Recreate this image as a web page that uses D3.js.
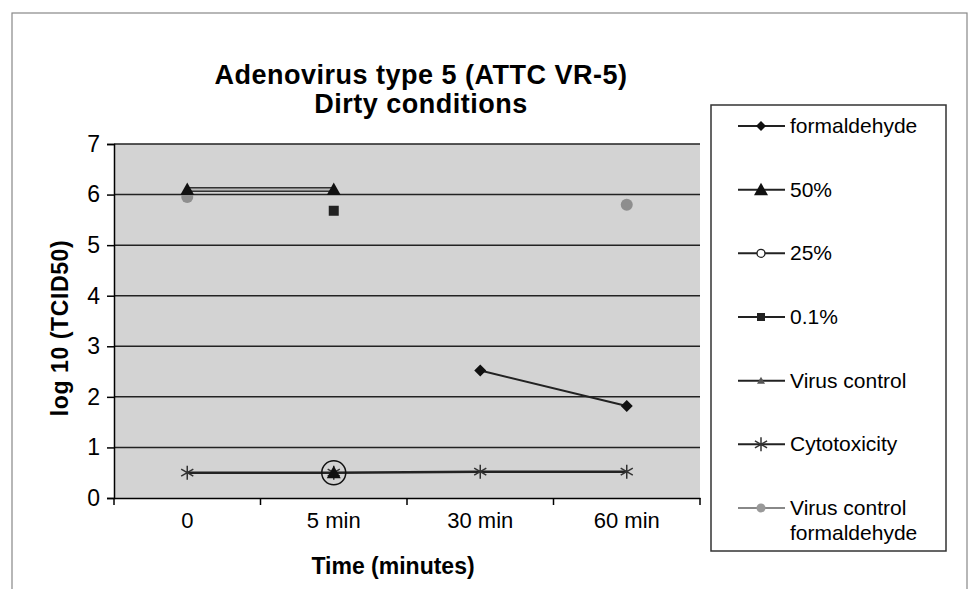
<!DOCTYPE html>
<html>
<head>
<meta charset="utf-8">
<script src="https://cdn.jsdelivr.net/npm/d3@7"></script>
<style>
  body { margin: 0; background: #fff; }
  text { font-family: "Liberation Sans", Arial, sans-serif; fill: #000; }
</style>
</head>
<body>
<script>
// chart data
const categories = ["0", "5 min", "30 min", "60 min"];
const yTicks = [0, 1, 2, 3, 4, 5, 6, 7];

// null = no point at that time
const formaldehyde = [null, null, 2.52, 1.82];
const pct50 = [null, 0.5, null, null];
const pct25 = [null, 0.5, null, null];
const pct01 = [null, 5.68, null, null];
const virusControl = [6.1, 6.1, null, null];
const cytotoxicity = [0.5, 0.5, 0.52, 0.52];
const virusControlForm = [5.95, null, null, 5.8];

const legendLabels = ["formaldehyde", "50%", "25%", "0.1%", "Virus control", "Cytotoxicity", "Virus control formaldehyde"];

const W = 973, H = 589;
const plot = { left: 114, right: 700, top: 144, bottom: 498 };

const svg = d3.select("body").append("svg")
  .attr("width", W)
  .attr("height", H);

// outer chart frame
svg.append("rect")
  .attr("x", 12).attr("y", 13)
  .attr("width", 955).attr("height", 580)
  .attr("fill", "none")
  .attr("stroke", "#888")
  .attr("stroke-width", 1.2);

const x = d3.scaleBand().domain(categories).range([plot.left, plot.right]);
const y = d3.scaleLinear().domain([0, 7]).range([plot.bottom, plot.top]);

// plot background
svg.append("rect")
  .attr("x", plot.left).attr("y", plot.top)
  .attr("width", plot.right - plot.left).attr("height", plot.bottom - plot.top)
  .attr("fill", "#d3d3d3");

// gridlines
svg.append("g").selectAll("line")
  .data(yTicks.filter(d => d > 0))
  .join("line")
  .attr("x1", plot.left).attr("x2", plot.right)
  .attr("y1", d => y(d)).attr("y2", d => y(d))
  .attr("stroke", "#222")
  .attr("stroke-width", 1.5);

// y axis
const yAxis = svg.append("g")
  .attr("transform", `translate(${plot.left},0)`)
  .call(d3.axisLeft(y).tickValues(yTicks).tickFormat(d3.format("d")).tickSize(7).tickPadding(7));
yAxis.selectAll("text").style("font-size", "23px");
yAxis.selectAll("line, path").attr("stroke", "#000").attr("stroke-width", 1.5);

// x axis: Excel style ticks between categories
const xAxis = svg.append("g")
  .attr("transform", `translate(0,${plot.bottom})`)
  .call(d3.axisBottom(x).tickSize(0).tickPadding(14));
xAxis.select("path").attr("stroke", "#000").attr("stroke-width", 1.5);
xAxis.selectAll("text").style("font-size", "22px");
xAxis.append("g").selectAll("line")
  .data(categories.map(c => x(c)).concat([plot.right]))
  .join("line")
  .attr("x1", d => d).attr("x2", d => d)
  .attr("y1", 0).attr("y2", 7)
  .attr("stroke", "#000").attr("stroke-width", 1.5);

// titles
const title = svg.append("text")
  .attr("x", 421).attr("y", 84)
  .attr("text-anchor", "middle")
  .style("font-size", "27px").style("font-weight", "bold")
  .style("letter-spacing", "0.5px");
title.append("tspan").attr("x", 421).text("Adenovirus type 5 (ATTC VR-5)");
title.append("tspan").attr("x", 421).attr("dy", 29).text("Dirty conditions");

svg.append("text")
  .attr("x", 393).attr("y", 574)
  .attr("text-anchor", "middle")
  .style("font-size", "23px").style("font-weight", "bold")
  .text("Time (minutes)");

svg.append("text")
  .attr("transform", "translate(68,328) rotate(-90)")
  .attr("text-anchor", "middle")
  .style("font-size", "23px").style("font-weight", "bold")
  .style("letter-spacing", "0.6px")
  .text("log 10 (TCID50)");

const cx = i => x(categories[i]) + x.bandwidth() / 2;

function pts(arr) {
  return arr.map((v, i) => ({ i, v })).filter(d => d.v != null);
}

// line segments only between consecutive present points
const line = d3.line()
  .defined(d => d.v != null)
  .x(d => cx(d.i))
  .y(d => y(d.v));

function drawLine(g, arr, color, width) {
  g.append("path")
    .datum(arr.map((v, i) => ({ i, v })))
    .attr("d", line)
    .attr("fill", "none")
    .attr("stroke", color)
    .attr("stroke-width", width);
}

const marks = svg.append("g");

// marker shapes
function diamond(g, px, py, s) {
  g.append("path").attr("d", `M${px},${py - s}L${px + s},${py}L${px},${py + s}L${px - s},${py}Z`).attr("fill", "#111");
}
function triangle(g, px, py, s, fill) {
  g.append("path").attr("d", `M${px},${py - s}L${px + s},${py + s * 0.8}L${px - s},${py + s * 0.8}Z`).attr("fill", fill);
}
function square(g, px, py, s) {
  g.append("rect").attr("x", px - s).attr("y", py - s).attr("width", 2 * s).attr("height", 2 * s).attr("fill", "#222");
}
function ring(g, px, py, r) {
  g.append("circle").attr("cx", px).attr("cy", py).attr("r", r).attr("fill", "none").attr("stroke", "#111").attr("stroke-width", 1.5);
}
function star(g, px, py, s) {
  const p = [];
  [0, 60, 120].forEach(a => {
    const r = a * Math.PI / 180;
    p.push(`M${px - s * Math.sin(r)},${py - s * Math.cos(r)}L${px + s * Math.sin(r)},${py + s * Math.cos(r)}`);
  });
  g.append("path").attr("d", p.join("")).attr("stroke", "#333").attr("stroke-width", 1.5).attr("fill", "none");
}
function dot(g, px, py, r, fill) {
  g.append("circle").attr("cx", px).attr("cy", py).attr("r", r).attr("fill", fill);
}

// series
drawLine(marks, virusControlForm, "#999", 1.5);
drawLine(marks, virusControl, "#333", 5);
drawLine(marks, virusControl, "#bbb", 2);
drawLine(marks, formaldehyde, "#222", 2);
drawLine(marks, cytotoxicity, "#222", 2.5);

pts(virusControlForm).forEach(d => dot(marks, cx(d.i), y(d.v), 6, "#8e8e8e"));
pts(virusControl).forEach(d => triangle(marks, cx(d.i), y(d.v), 7, "#111"));
pts(pct01).forEach(d => square(marks, cx(d.i), y(d.v), 5));
pts(formaldehyde).forEach(d => diamond(marks, cx(d.i), y(d.v), 6));
pts(cytotoxicity).forEach(d => star(marks, cx(d.i), y(d.v), 7));
pts(pct25).forEach(d => ring(marks, cx(d.i), y(d.v), 12));
pts(pct50).forEach(d => triangle(marks, cx(d.i), y(d.v), 7, "#111"));

// legend
const lg = svg.append("g");
lg.append("rect")
  .attr("x", 711).attr("y", 105)
  .attr("width", 235).attr("height", 446)
  .attr("fill", "#fff").attr("stroke", "#333").attr("stroke-width", 1.5);

const legendY = d3.scalePoint().domain(legendLabels).range([126, 508]);
const lx0 = 738, lx1 = 785, lmx = 761;

legendLabels.forEach((lab, k) => {
  const ly = legendY(lab);
  const gray = k === 6;
  lg.append("line")
    .attr("x1", lx0).attr("x2", lx1).attr("y1", ly).attr("y2", ly)
    .attr("stroke", gray ? "#888" : "#222").attr("stroke-width", 2);
  if (k === 0) diamond(lg, lmx, ly, 5);
  if (k === 1) triangle(lg, lmx, ly, 7, "#111");
  if (k === 2) { lg.append("circle").attr("cx", lmx).attr("cy", ly).attr("r", 4).attr("fill", "#fff").attr("stroke", "#222").attr("stroke-width", 1.3); }
  if (k === 3) square(lg, lmx, ly, 4);
  if (k === 4) triangle(lg, lmx, ly, 4, "#555");
  if (k === 5) star(lg, lmx, ly, 7);
  if (k === 6) dot(lg, lmx, ly, 4.5, "#999");
  const t = lg.append("text")
    .attr("x", 790).attr("y", ly + 7)
    .style("font-size", "21px");
  if (k === 6) {
    t.append("tspan").attr("x", 790).text("Virus control");
    t.append("tspan").attr("x", 790).attr("dy", 25).text("formaldehyde");
  } else {
    t.text(lab);
  }
});
</script>
</body>
</html>
